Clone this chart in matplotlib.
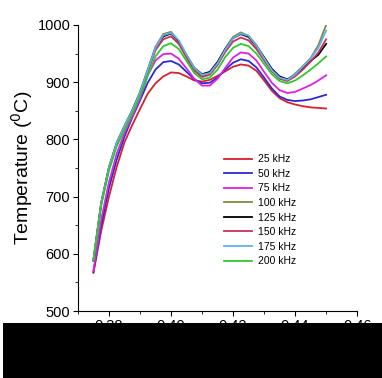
import matplotlib
matplotlib.use("Agg")
import matplotlib.pyplot as plt
from matplotlib.patches import Rectangle
from matplotlib.ticker import MultipleLocator

plt.rcParams["font.family"] = ["Liberation Sans", "DejaVu Sans"]

# position along the coil (every 0.0025)
x = [0.375, 0.3775, 0.38, 0.3825, 0.385, 0.3875, 0.39, 0.3925, 0.395, 0.3975,
     0.40, 0.4025, 0.405, 0.4075, 0.41, 0.4125, 0.415, 0.4175, 0.42, 0.4225,
     0.425, 0.4275, 0.43, 0.4325, 0.435, 0.4375, 0.44, 0.4425, 0.445, 0.4475, 0.45]

labels = ["25 kHz", "50 kHz", "75 kHz", "100 kHz", "125 kHz", "150 kHz", "175 kHz", "200 kHz"]
colors = ["#d82030", "#2a2ad0", "#e020e0", "#7f8a3a", "#000000", "#c8305a", "#5fb0f0", "#2ec82e"]

t25 = [567, 640, 700, 752, 795, 825, 853, 880, 898, 910,
       917, 916, 910, 903, 901, 904, 911, 919, 927, 931,
       929, 920, 903, 885, 872, 865, 861, 858, 856, 855, 854]
t50 = [568, 650, 715, 765, 805, 838, 868, 899, 922, 935,
       937, 931, 918, 905, 898, 899, 908, 922, 934, 940,
       937, 926, 908, 889, 875, 869, 867, 868, 870, 874, 878]
t75 = [570, 660, 725, 775, 811, 840, 871, 912, 938, 949,
       950, 941, 924, 906, 894, 894, 906, 925, 943, 952,
       950, 938, 918, 899, 886, 881, 883, 889, 895, 903, 912]
t100 = [590, 690, 752, 795, 824, 851, 883, 922, 962, 984,
        988, 972, 946, 923, 911, 916, 935, 959, 979, 987,
        981, 965, 944, 923, 908, 904, 915, 928, 942, 965, 1000]
t125 = [588, 688, 750, 793, 822, 850, 881, 920, 959, 980,
        985, 971, 947, 925, 914, 918, 935, 958, 977, 984,
        979, 963, 943, 923, 910, 905, 912, 925, 937, 948, 967]
t150 = [589, 688, 750, 792, 821, 849, 880, 918, 956, 975,
        980, 967, 943, 920, 909, 913, 930, 953, 971, 978,
        973, 958, 938, 919, 906, 902, 910, 922, 936, 952, 975]
t175 = [589, 689, 751, 794, 823, 850, 882, 921, 960, 982,
        986, 973, 948, 925, 913, 916, 933, 957, 977, 985,
        981, 964, 942, 921, 908, 904, 913, 927, 941, 960, 990]
t200 = [588, 684, 745, 788, 817, 845, 876, 912, 945, 963,
        968, 958, 937, 916, 905, 908, 922, 944, 960, 967,
        963, 950, 932, 914, 902, 898, 903, 912, 922, 933, 945]

series = [t25, t50, t75, t100, t125, t150, t175, t200]

fig = plt.figure(figsize=(3.82, 3.78), dpi=100)
ax = fig.add_axes([0.204, 0.177, 0.731, 0.757])

for y, lab, c in zip(series, labels, colors):
    ax.plot(x, y, color=c, lw=1.3, label=lab)

ax.set_xlim(0.37, 0.46)
ax.set_ylim(500, 1000)
ax.xaxis.set_minor_locator(MultipleLocator(0.01))
ax.yaxis.set_major_locator(MultipleLocator(100))
ax.yaxis.set_minor_locator(MultipleLocator(50))
ax.set_xticks([0.38, 0.40, 0.42, 0.44, 0.46])
ax.set_xticklabels(["0.38", "0.40", "0.42", "0.44", "0.46"])
ax.tick_params(which="major", direction="out", length=3.5, labelsize=10.5, pad=2)
ax.tick_params(which="minor", direction="out", length=2)
ax.spines["top"].set_visible(False)
ax.spines["right"].set_visible(False)
ax.set_ylabel("Temperature ($^0$C)", fontsize=14, labelpad=2)

ax.legend(loc="upper left", bbox_to_anchor=(0.586, 0.592), bbox_transform=fig.transFigure,
          frameon=False, fontsize=7.5, handlelength=2.7, handletextpad=0.6,
          labelspacing=0.44, borderpad=0, borderaxespad=0)

# black bar covering the bottom of the picture
fig.patches.append(Rectangle((3 / 382, 0), 1, 55 / 378, transform=fig.transFigure,
                             facecolor="black", edgecolor="none", zorder=10))

fig.savefig("out.png", dpi=100)
